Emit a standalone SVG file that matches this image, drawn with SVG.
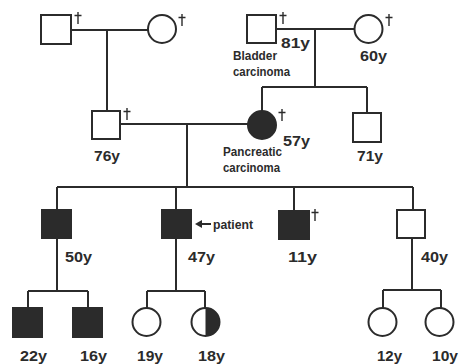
<svg xmlns="http://www.w3.org/2000/svg" width="463" height="364" viewBox="0 0 463 364">
<defs>
<path id="dag" d="M0 -6V6M-3.5 -2.5H3.5" stroke="#2b2b2b" stroke-width="1.4" fill="none"/>
</defs>
<style>
.ln{stroke:#2b2b2b;stroke-width:2;fill:none}
.o{stroke:#2b2b2b;stroke-width:2;fill:#fff}
.f{stroke:#2b2b2b;stroke-width:2;fill:#2b2b2b}
.t{font-family:"Liberation Sans",Arial,sans-serif;font-weight:bold;font-size:15px;fill:#2b2b2b}
.s{font-family:"Liberation Sans",Arial,sans-serif;font-weight:bold;font-size:13px;fill:#2b2b2b}
</style>
<rect width="463" height="364" fill="#fff"/>
<g id="connectors">
<path class="ln" d="M71 30H148M107 30V111"/>
<path class="ln" d="M276 29H354M315 29V87M262 87H367M262 87V111M367 87V113"/>
<path class="ln" d="M120 124H248M187 124V187"/>
<path class="ln" d="M57 187H413M57 187V210M176 187V210M294 187V211M413 187V210"/>
<path class="ln" d="M57 238V291M28 291H88M28 291V308M88 291V308"/>
<path class="ln" d="M176 238V291M147 291H205M147 291V308M205 291V308"/>
<path class="ln" d="M412 238V290M383 290H441M383 290V308M441 290V308"/>
</g>
<g id="gf1"><rect class="o" x="41" y="15" width="30" height="29"/><use href="#dag" x="78" y="18"/></g>
<g id="gm1"><circle class="o" cx="162" cy="29" r="14"/><use href="#dag" x="182" y="20"/></g>
<g id="gf2"><rect class="o" x="247" y="15" width="29" height="28"/><use href="#dag" x="283" y="18"/>
<text class="t" x="281" y="48" textLength="29" lengthAdjust="spacingAndGlyphs">81y</text>
<text class="s" x="233" y="60" textLength="44" lengthAdjust="spacingAndGlyphs">Bladder</text>
<text class="s" x="233" y="76" textLength="57" lengthAdjust="spacingAndGlyphs">carcinoma</text></g>
<g id="gm2"><circle class="o" cx="368.5" cy="29" r="14"/><use href="#dag" x="389" y="20"/>
<text class="t" x="360" y="61" textLength="27" lengthAdjust="spacingAndGlyphs">60y</text></g>
<g id="father"><rect class="o" x="92" y="111" width="28" height="28"/><use href="#dag" x="127" y="114"/>
<text class="t" x="94" y="161" textLength="26" lengthAdjust="spacingAndGlyphs">76y</text></g>
<g id="mother"><circle class="f" cx="262" cy="125" r="14"/><use href="#dag" x="282" y="115"/>
<text class="t" x="283" y="146" textLength="27" lengthAdjust="spacingAndGlyphs">57y</text>
<text class="s" x="223" y="156" textLength="59" lengthAdjust="spacingAndGlyphs">Pancreatic</text>
<text class="s" x="223" y="172" textLength="57" lengthAdjust="spacingAndGlyphs">carcinoma</text></g>
<g id="uncle"><rect class="o" x="353" y="113" width="28" height="29"/>
<text class="t" x="357" y="161" textLength="26" lengthAdjust="spacingAndGlyphs">71y</text></g>
<g id="c1"><rect class="f" x="42" y="210" width="29" height="28"/>
<text class="t" x="65" y="262" textLength="27" lengthAdjust="spacingAndGlyphs">50y</text></g>
<g id="patient"><rect class="f" x="162" y="210" width="29" height="28"/>
<path d="M195 224L202 220V228Z" fill="#2b2b2b"/><path class="ln" d="M200 224H211"/>
<text class="s" x="213" y="229" textLength="40" lengthAdjust="spacingAndGlyphs">patient</text>
<text class="t" x="188" y="262" textLength="27" lengthAdjust="spacingAndGlyphs">47y</text></g>
<g id="c3"><rect class="f" x="279" y="211" width="30" height="28"/><use href="#dag" x="315" y="215"/>
<text class="t" x="288" y="262" textLength="29" lengthAdjust="spacingAndGlyphs">11y</text></g>
<g id="c4"><rect class="o" x="397" y="210" width="28" height="28"/>
<text class="t" x="421" y="262" textLength="27" lengthAdjust="spacingAndGlyphs">40y</text></g>
<g id="g1"><rect class="f" x="13" y="308" width="29" height="29"/>
<text class="t" x="20" y="361" textLength="27" lengthAdjust="spacingAndGlyphs">22y</text></g>
<g id="g2"><rect class="f" x="73" y="308" width="29" height="29"/>
<text class="t" x="80" y="361" textLength="27" lengthAdjust="spacingAndGlyphs">16y</text></g>
<g id="g3"><circle class="o" cx="146.5" cy="322" r="14"/>
<text class="t" x="137" y="361" textLength="26" lengthAdjust="spacingAndGlyphs">19y</text></g>
<g id="g4"><circle class="o" cx="205.5" cy="322" r="14"/><path d="M205.5 308A14 14 0 0 1 205.5 336Z" fill="#2b2b2b"/>
<text class="t" x="198" y="361" textLength="27" lengthAdjust="spacingAndGlyphs">18y</text></g>
<g id="g5"><circle class="o" cx="382.5" cy="322" r="14"/>
<text class="t" x="377" y="361" textLength="25" lengthAdjust="spacingAndGlyphs">12y</text></g>
<g id="g6"><circle class="o" cx="439.5" cy="322" r="14"/>
<text class="t" x="432" y="361" textLength="26" lengthAdjust="spacingAndGlyphs">10y</text></g>
</svg>
